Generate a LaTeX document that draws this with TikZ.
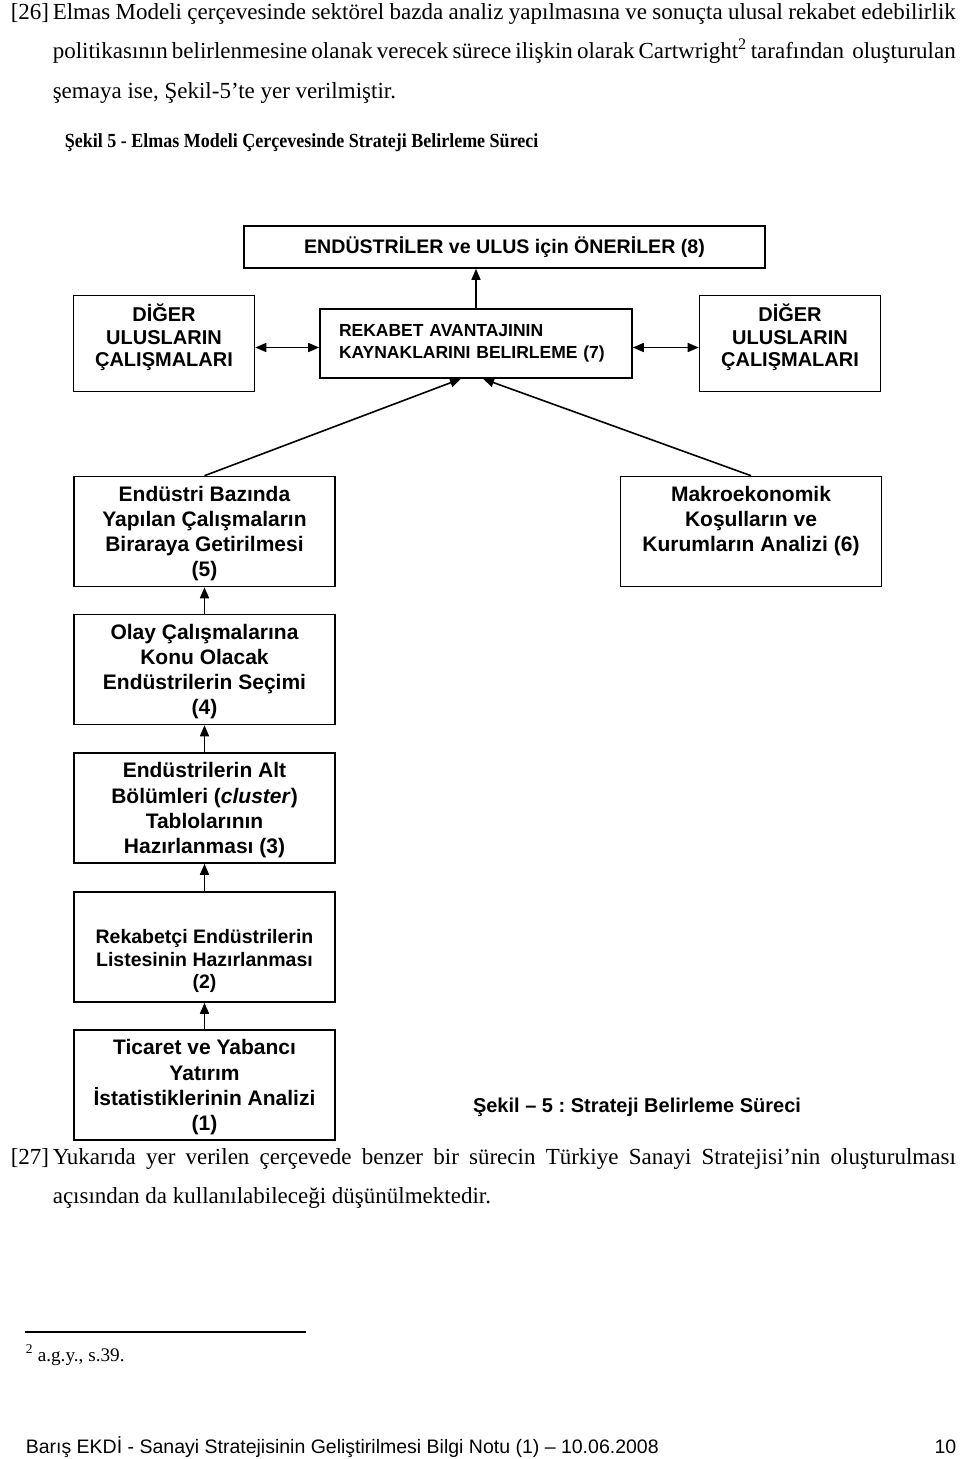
\documentclass[tikz,border=0pt]{standalone}
\usepackage{fontspec}
\setmainfont{Liberation Serif}
\setsansfont{Liberation Sans}
\newfontfamily\headfont{Liberation Serif}[FakeStretch=0.9]
\usetikzlibrary{arrows.meta}
\frenchspacing
\newcommand{\bodyfont}{\rmfamily\fontsize{23}{40}\selectfont}
\tikzset{
	body/.style={anchor=base west, inner sep=0pt, font=\bodyfont},
	stage/.style={draw=black, line width=1.6pt, align=center, inner sep=0pt,
		minimum width=261pt, minimum height=110pt, text depth=0pt,
		font=\sffamily\bfseries\fontsize{21}{25.2}\selectfont},
	other/.style={draw=black, line width=1.6pt, align=center, inner sep=0pt,
		minimum width=181pt, minimum height=96pt,
		font=\sffamily\bfseries\fontsize{20}{22.5}\selectfont}
}

\begin{document}
\begin{tikzpicture}[x=1pt, y=-1pt, >={Triangle[length=11pt, width=9pt]}, line width=1.6pt]

	\fill[white] (0,0) rectangle (960,1459);

	% paragraph 26
	\node[body] (n26) at (10, 19) {[26]};
	\node[body] (p1) at (52, 19) {\makebox[903pt][s]{Elmas Modeli çerçevesinde sektörel bazda analiz yapılmasına ve sonuçta ulusal rekabet edebilirlik}};
	\node[body] (p2) at (52, 58.5) {\makebox[903pt][s]{politikasının belirlenmesine olanak verecek sürece ilişkin olarak Cartwright\textsuperscript{2} tarafından \ oluşturulan}};
	\node[body] (p3) at (52, 98) {şemaya ise, Şekil-5’te yer verilmiştir.};

	\node[body, font=\headfont\bfseries\fontsize{20}{24}\selectfont] (title) at (64, 147) {Şekil 5 - Elmas Modeli Çerçevesinde Strateji Belirleme Süreci};

	% top row
	\node[draw=black, inner sep=0pt, minimum width=521pt, minimum height=42pt,
		font=\sffamily\bfseries\fontsize{19.6}{23}\selectfont] (oneri) at (504.5, 247) {ENDÜSTRİLER ve ULUS için ÖNERİLER (8)};
	\node[other] (digerl) at (164, 343.5) {DİĞER\\ULUSLARIN\\ÇALIŞMALARI\\[-6pt]};
	\node[draw=black, inner sep=0pt, minimum width=312pt, minimum height=69pt, text width=274pt, align=left,
		font=\sffamily\bfseries\fontsize{17.5}{22}\selectfont] (kaynak) at (476, 343.5) {REKABET AVANTAJININ\\KAYNAKLARINI BELIRLEME (7)};
	\node[other] (digerr) at (790, 343.5) {DİĞER\\ULUSLARIN\\ÇALIŞMALARI\\[-6pt]};

	% stages
	\node[stage] (endbaz) at (204.5, 531.5) {Endüstri Bazında\\Yapılan Çalışmaların\\Biraraya Getirilmesi\\(5)};
	\node[stage] (makro) at (751, 531.5) {Makroekonomik\\Koşulların ve\\Kurumların Analizi (6)\\\strut};
	\node[stage] (olay) at (204.5, 669.5) {Olay Çalışmalarına\\Konu Olacak\\Endüstrilerin Seçimi\\(4)};
	\node[stage] (altbol) at (204.5, 808) {Endüstrilerin Alt\\Bölümleri (\textit{cluster})\\Tablolarının\\Hazırlanması (3)};
	\node[stage, font=\sffamily\bfseries\fontsize{19.5}{22.5}\selectfont] (rekabetci) at (204.5, 947) {\strut\\Rekabetçi Endüstrilerin\\Listesinin Hazırlanması\\(2)};
	\node[stage] (ticaret) at (204.5, 1085) {Ticaret ve Yabancı\\Yatırım\\İstatistiklerinin Analizi\\(1)};

	\node[inner sep=0pt, anchor=base, font=\sffamily\bfseries\fontsize{20}{24}\selectfont] (caption) at (637, 1112) {Şekil – 5 : Strateji Belirleme Süreci};

	\draw[->] (kaynak.north) -- (kaynak.north |- oneri.south);
	\draw[<->] ([yshift=-4pt]digerl.east) -- ([yshift=-4pt]kaynak.west);
	\draw[<->] ([yshift=-4pt]kaynak.east) -- ([yshift=-4pt]digerr.west);

	% into the sources box
	\draw[->] (endbaz.north) -- ([xshift=-15pt]kaynak.south);
	\draw[->] (makro.north) -- ([xshift=7pt]kaynak.south);

	\draw[->] (ticaret.north) -- (rekabetci.south);
	\draw[->] (rekabetci.north) -- (altbol.south);
	\draw[->] (altbol.north) -- (olay.south);
	\draw[->] (olay.north) -- (endbaz.south);

	% paragraph 27
	\node[body] (n27) at (10, 1164) {[27]};
	\node[body] (q1) at (52, 1164) {\makebox[903pt][s]{Yukarıda yer verilen çerçevede benzer bir sürecin Türkiye Sanayi Stratejisi’nin oluşturulması}};
	\node[body] (q2) at (52, 1203) {açısından da kullanılabileceği düşünülmektedir.};

	% footnote and footer
	\coordinate (rulel) at (25, 1332);
	\coordinate (ruler) at (306, 1332);
	\draw[line width=1.2pt] (rulel) -- (ruler);
	\node[body, font=\rmfamily\fontsize{19.2}{22}\selectfont] (fn) at (25, 1361) {\textsuperscript{2} a.g.y., s.39.};
	\node[body, font=\sffamily\fontsize{19.5}{22}\selectfont] (footer) at (25, 1453) {Barış EKDİ - Sanayi Stratejisinin Geliştirilmesi Bilgi Notu (1) – 10.06.2008};
	\node[body, anchor=base east, font=\sffamily\fontsize{19.5}{22}\selectfont] (page) at (957, 1453) {10};

\end{tikzpicture}
\end{document}
